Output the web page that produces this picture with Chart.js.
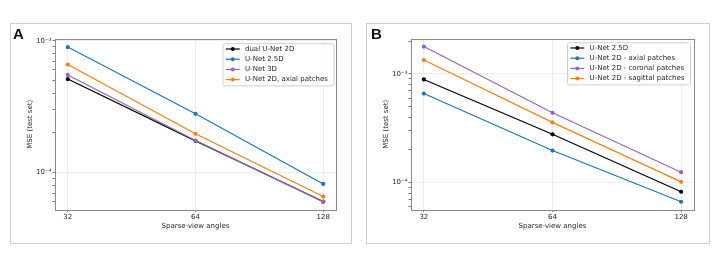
<!DOCTYPE html>
<html>
<head>
<meta charset="utf-8">
<script src="https://cdn.jsdelivr.net/npm/chart.js@4"></script>
<style>
  html, body { margin: 0; padding: 0; background: #fff; }
  body { width: 718px; height: 267px; position: relative; overflow: hidden; }
  .frame { position: absolute; top: 23px; height: 219px; border: 1px solid #cfcfcf; box-sizing: content-box; }
  .frame canvas { position: absolute; left: 0; top: 0; }
  .letter { position: absolute; top: 26px; font-family: "Liberation Sans", Arial, sans-serif; font-weight: bold; font-size: 15px; line-height: 15px; color: #111; }
</style>
</head>
<body>
<div class="frame" style="left:10px;width:340px;"><canvas id="chartA" width="340" height="219"></canvas></div>
<div class="frame" style="left:366px;width:342px;"><canvas id="chartB" width="342" height="219"></canvas></div>
<div class="letter" style="left:13px;">A</div>
<div class="letter" style="left:371px;">B</div>
<script>
// ---- data ----
const angles = [32, 64, 128];
const angleLabels = ['32', '64', '128'];
const yMajorTicks = [1e-4, 1e-3];
const yMajorLabels = ['10\u207B\u2074', '10\u207B\u00B3'];

const labelsA = ['dual U-Net 2D', 'U-Net 2.5D', 'U-Net 3D', 'U-Net 2D, axial patches'];
const dualUNet2D_A = [5.12e-4, 1.74e-4, 6.03e-5];
const uNet25D_A    = [8.95e-4, 2.79e-4, 8.2e-5];
const uNet3D_A     = [5.5e-4, 1.75e-4, 6.0e-5];
const uNet2DAxial_A = [6.6e-4, 1.97e-4, 6.58e-5];

const labelsB = ['U-Net 2.5D', 'U-Net 2D - axial patches', 'U-Net 2D - coronal patches', 'U-Net 2D - sagittal patches'];
const uNet25D_B     = [8.9e-4, 2.78e-4, 8.22e-5];
const axial_B       = [6.6e-4, 1.97e-4, 6.65e-5];
const coronal_B     = [1.79e-3, 4.39e-4, 1.245e-4];
const sagittal_B    = [1.345e-3, 3.58e-4, 1.014e-4];

const yRangeA = [5.25e-5, 1.03e-3];
const yRangeB = [5.64e-5, 2.1e-3];

// ---- styling ----
const COLORS = { black: '#000000', blue: '#1f77b4', purple: '#9467bd', orange: '#ff7f0e' };
const FONT = '"DejaVu Sans", sans-serif';
const TEXT = '#1f1f1f';
const GRID = '#e8e8e8';
const SPINE = '#8a8a8a';

Chart.defaults.font.family = FONT;
Chart.defaults.font.size = 7;
Chart.defaults.color = TEXT;

const framePlugin = {
  id: 'frame',
  afterDatasetsDraw(chart) {
    const { ctx, chartArea: a } = chart;
    ctx.save();
    ctx.strokeStyle = SPINE;
    ctx.lineWidth = 1;
    ctx.strokeRect(Math.round(a.left) + 0.5, Math.round(a.top) + 0.5, Math.round(a.right - a.left), Math.round(a.bottom - a.top));
    ctx.restore();
  }
};

const legendPlugin = {
  id: 'insideLegend',
  afterDraw(chart, args, opts) {
    const { ctx, chartArea: a } = chart;
    const ds = chart.data.datasets;
    ctx.save();
    ctx.font = '7px ' + FONT;
    const tw = Math.max(...ds.map(d => ctx.measureText(d.label).width));
    const padL = 3.3, lineLen = 14, gap = 5.2, padR = 5.5, rowH = 10.2, padT = 5.8;
    const w = padL + lineLen + gap + tw + padR;
    const h = padT * 2 + rowH * (ds.length - 1);
    const x = a.right - opts.right - w;
    const y = a.top + opts.top;
    ctx.beginPath();
    ctx.roundRect(x + 0.5, y + 0.5, w, h, 2);
    ctx.fillStyle = 'rgba(255,255,255,0.8)';
    ctx.fill();
    ctx.strokeStyle = '#d0d0d0';
    ctx.lineWidth = 1;
    ctx.stroke();
    ds.forEach((d, i) => {
      const cy = y + padT + i * rowH;
      ctx.strokeStyle = d.borderColor;
      ctx.lineWidth = 1.2;
      ctx.beginPath();
      ctx.moveTo(x + padL, cy);
      ctx.lineTo(x + padL + lineLen, cy);
      ctx.stroke();
      ctx.fillStyle = d.borderColor;
      ctx.beginPath();
      ctx.arc(x + padL + lineLen / 2, cy, 2, 0, Math.PI * 2);
      ctx.fill();
      ctx.fillStyle = TEXT;
      ctx.textBaseline = 'middle';
      ctx.textAlign = 'left';
      ctx.fillText(d.label, x + padL + lineLen + gap, cy);
    });
    ctx.restore();
  }
};

function makeDataset(label, values, color, order) {
  return {
    label,
    data: angles.map((a, i) => ({ x: a, y: values[i] })),
    borderColor: color,
    backgroundColor: color,
    borderWidth: 1.2,
    pointRadius: 2.1,
    pointBorderWidth: 0,
    pointBackgroundColor: color,
    tension: 0,
    order
  };
}

function buildYTicks(scale, range) {
  const ticks = [];
  const e0 = Math.floor(Math.log10(range[0]));
  const e1 = Math.ceil(Math.log10(range[1]));
  for (let e = e0; e <= e1; e++) {
    for (let m = 1; m <= 9; m++) {
      const v = m * Math.pow(10, e);
      if (v >= range[0] && v <= range[1]) ticks.push({ value: v, major: m === 1 });
    }
  }
  scale.ticks = ticks;
}

function makeOptions(yRange, legendOpts) {
  return {
    responsive: false,
    animation: false,
    devicePixelRatio: 1,
    events: [],
    layout: { padding: { left: 0, top: 15, right: 15, bottom: 0 } },
    plugins: {
      legend: { display: false },
      tooltip: { enabled: false },
      insideLegend: legendOpts
    },
    scales: {
      x: {
        type: 'logarithmic',
        min: angles[0] / Math.pow(2, 0.1),
        max: angles[angles.length - 1] * Math.pow(2, 0.1),
        afterBuildTicks: s => { s.ticks = angles.map(v => ({ value: v, major: true })); },
        afterFit: s => { s.height = 33.5; },
        ticks: {
          autoSkip: false, maxRotation: 0, padding: 0.5, color: TEXT,
          font: { size: 7, family: FONT },
          callback: v => { const i = angles.indexOf(v); return i >= 0 ? angleLabels[i] : ''; }
        },
        grid: { color: GRID, tickColor: '#555', tickLength: 2.5, lineWidth: 0.8, tickWidth: 0.8 },
        border: { display: false },
        title: { display: true, text: 'Sparse-view angles', color: TEXT, font: { size: 7, family: FONT }, padding: { top: 0, bottom: 12.5 } }
      },
      y: {
        type: 'logarithmic',
        min: yRange[0],
        max: yRange[1],
        afterBuildTicks: s => buildYTicks(s, yRange),
        afterFit: s => { s.width = 44; },
        ticks: {
          autoSkip: false, padding: 1, color: TEXT,
          font: { size: 7, family: FONT },
          callback: (v, i, ticks) => {
            const t = ticks[i];
            if (!t || !t.major) return '';
            const k = yMajorTicks.findIndex(m => Math.abs(m - v) / m < 1e-6);
            return k >= 0 ? yMajorLabels[k] : '';
          }
        },
        grid: {
          color: c => (c.tick && c.tick.major) ? GRID : 'rgba(0,0,0,0)',
          tickColor: '#555', tickLength: 2.5, lineWidth: 0.8, tickWidth: 0.8
        },
        border: { display: false },
        title: { display: true, text: 'MSE (test set)', color: TEXT, font: { size: 7, family: FONT }, padding: { top: 14.8, bottom: 0 } }
      }
    }
  };
}

new Chart(document.getElementById('chartA'), {
  type: 'line',
  data: {
    datasets: [
      makeDataset(labelsA[0], dualUNet2D_A, COLORS.black, 4),
      makeDataset(labelsA[1], uNet25D_A, COLORS.blue, 3),
      makeDataset(labelsA[2], uNet3D_A, COLORS.purple, 2),
      makeDataset(labelsA[3], uNet2DAxial_A, COLORS.orange, 1)
    ]
  },
  options: makeOptions(yRangeA, { right: 2.5, top: 4.2 }),
  plugins: [framePlugin, legendPlugin]
});

new Chart(document.getElementById('chartB'), {
  type: 'line',
  data: {
    datasets: [
      makeDataset(labelsB[0], uNet25D_B, COLORS.black, 4),
      makeDataset(labelsB[1], axial_B, COLORS.blue, 3),
      makeDataset(labelsB[2], coronal_B, COLORS.purple, 2),
      makeDataset(labelsB[3], sagittal_B, COLORS.orange, 1)
    ]
  },
  options: makeOptions(yRangeB, { right: 4, top: 3.2 }),
  plugins: [framePlugin, legendPlugin]
});
</script>
</body>
</html>
